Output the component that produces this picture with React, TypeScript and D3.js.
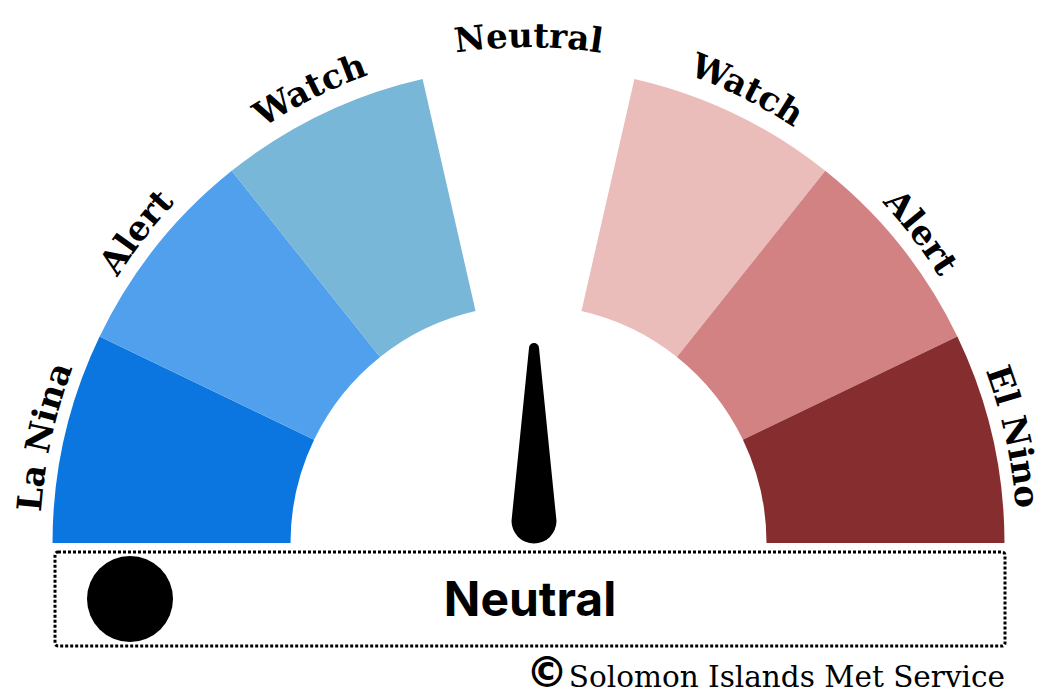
import React from "react";
import * as d3 from "d3";

const categories = ["La Nina", "Alert", "Watch", "Neutral", "Watch", "Alert", "El Nino"];
const segmentColors = ["#0b76e0", "#50a0ee", "#78b7d8", "none", "#eabdbb", "#d38283", "#862e2f"];
const currentValue = 0; // -3.5 .. 3.5, 0 = Neutral
const currentStatus = "Neutral";
const creditMark = "©";
const credit = "Solomon Islands Met Service";

const W = 1042;
const H = 697;
const cx = 528.5;
const cy = 543;
const outerR = 476;
const innerR = 238;
const labelRx = 489;
const labelRy = 502;
const labelCy = cy + 6;

export default function App() {
  const n = categories.length;
  const angle = d3
    .scaleLinear()
    .domain([0, n])
    .range([-Math.PI / 2, Math.PI / 2]);
  const arcGen = d3
    .arc<number>()
    .innerRadius(innerR)
    .outerRadius(outerR)
    .startAngle((i) => angle(i))
    .endAngle((i) => angle(i + 1));

  const valueAngle = d3.scaleLinear().domain([-n / 2, n / 2]).range([-90, 90]);
  const needleDeg = valueAngle(currentValue);

  // needle geometry (pivot at base circle center)
  const px = cx + 5.5;
  const py = 521;
  const baseR = 22.5;
  const tipR = 5;
  const len = py - 348;
  const needlePath = [
    `M ${-baseR} 0`,
    `L ${-tipR} ${-len}`,
    `A ${tipR} ${tipR} 0 0 1 ${tipR} ${-len}`,
    `L ${baseR} 0`,
    `A ${baseR} ${baseR} 0 0 1 ${-baseR} 0`,
    "Z",
  ].join(" ");

  const labelPath = `M ${cx - labelRx} ${labelCy} A ${labelRx} ${labelRy} 0 0 1 ${cx + labelRx} ${labelCy}`;

  return (
    <div>
      <style>{"body{margin:0}"}</style>
      <svg width={W} height={H} style={{ display: "block", background: "#fff" }}>
        <defs>
          <path id="labelArc" d={labelPath} fill="none" />
        </defs>
        <g transform={`translate(${cx},${cy})`}>
          {categories.map((c, i) =>
            segmentColors[i] === "none" ? null : (
              <path key={i} d={arcGen(i) || ""} fill={segmentColors[i]} />
            )
          )}
        </g>
        {categories.map((c, i) => (
          <text
            key={"l" + i}
            fontFamily="'DejaVu Serif', serif"
            fontWeight="bold"
            fontSize={34}
            fill="#000"
          >
            <textPath href="#labelArc" startOffset={`${((i + 0.5) / n) * 100}%`} textAnchor="middle">
              {c}
            </textPath>
          </text>
        ))}
        <g transform={`translate(${px},${py}) rotate(${needleDeg})`}>
          <path d={needlePath} fill="#000" />
        </g>
        <rect
          x={55}
          y={552}
          width={950}
          height={94}
          rx={3}
          fill="none"
          stroke="#000"
          strokeWidth={3}
          strokeDasharray="3 2"
        />
        <circle cx={130} cy={599} r={43} fill="#000" />
        <text
          x={530}
          y={616}
          textAnchor="middle"
          fontFamily="Inter, 'Open Sans', sans-serif"
          fontWeight="bold"
          fontSize={48}
          fill="#000"
        >
          {currentStatus}
        </text>
        <text
          x={547}
          y={687}
          textAnchor="middle"
          fontFamily="'DejaVu Sans', sans-serif"
          fontWeight="bold"
          fontSize={42}
          fill="#000"
        >
          {creditMark}
        </text>
        <text
          x={1005}
          y={687}
          textAnchor="end"
          fontFamily="'DejaVu Serif', serif"
          fontSize={29.5}
          fill="#000"
        >
          {credit}
        </text>
      </svg>
    </div>
  );
}
